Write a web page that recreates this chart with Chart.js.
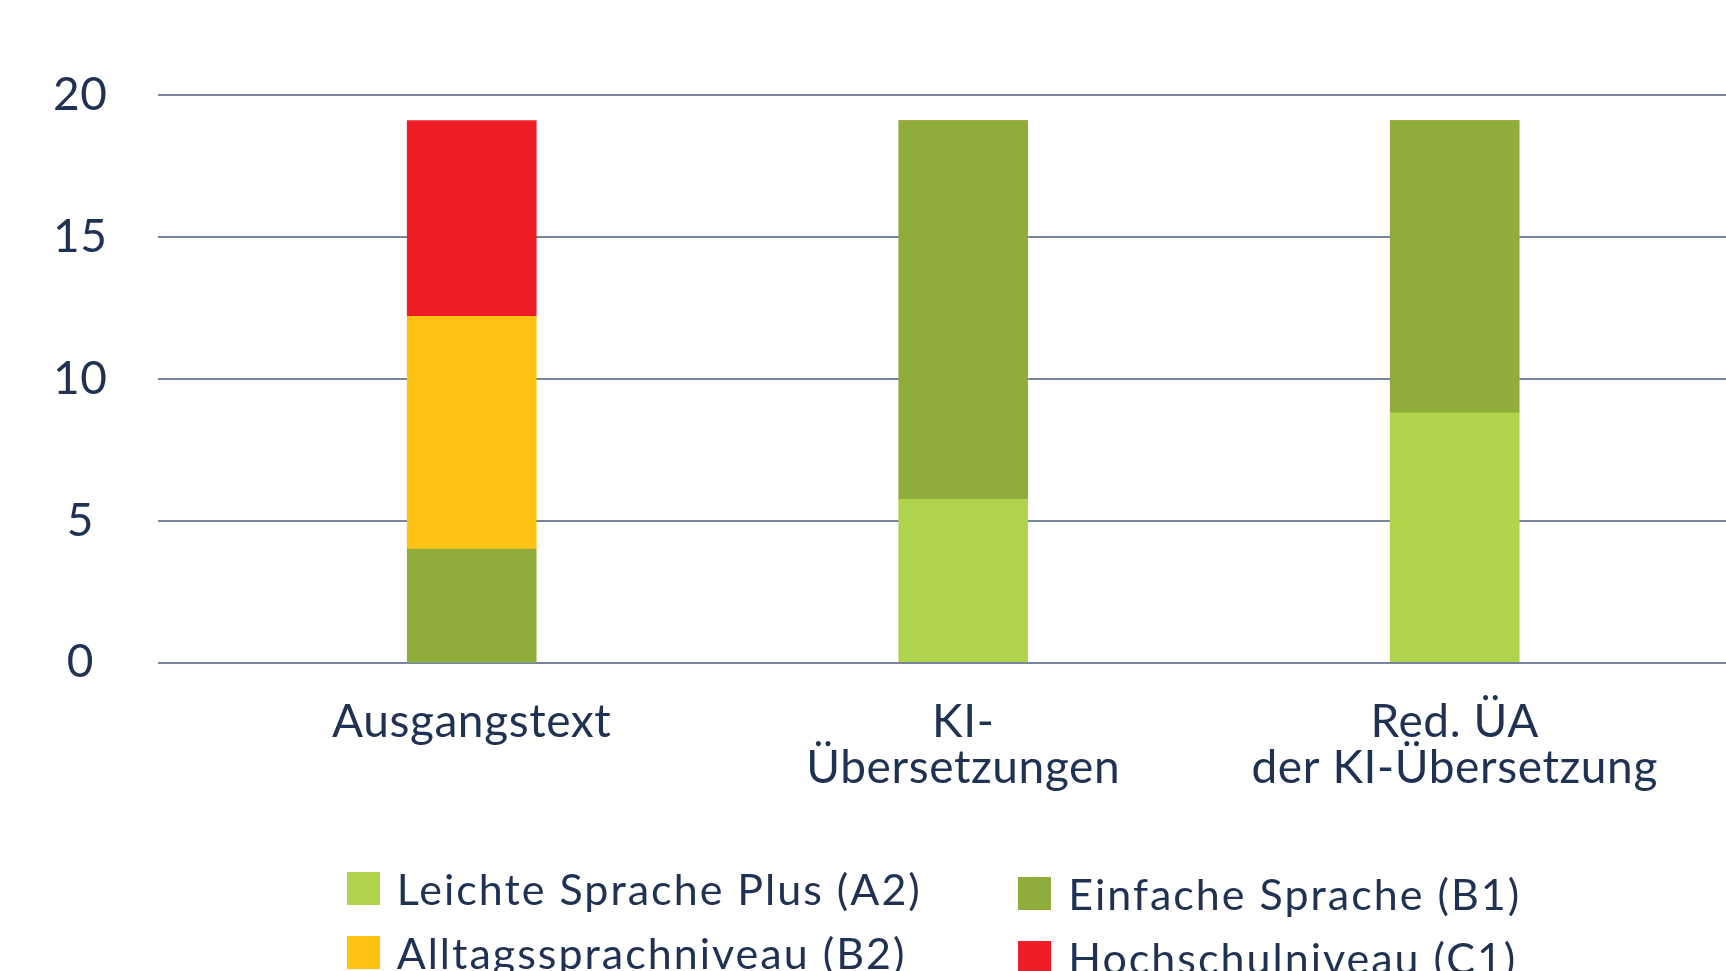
<!DOCTYPE html>
<html lang="de">
<head>
<meta charset="utf-8">
<title>Sprachniveau</title>
<script src="https://cdn.jsdelivr.net/npm/chart.js@4"></script>
<style>
  html, body { margin: 0; padding: 0; background: #ffffff; }
  #wrap { position: relative; width: 1726px; height: 971px; overflow: hidden; }
  canvas { position: absolute; left: 0; top: 0; }
  .lg-box { position: absolute; width: 33px; height: 33px; }
  .lg-text { position: absolute; white-space: nowrap; font-family: Lato, sans-serif; font-size: 43px; line-height: 42px; letter-spacing: 2px; color: #1f3253; }
</style>
</head>
<body>
<div id="wrap">
  <canvas id="c" width="1726" height="971"></canvas>
  <div id="legend"></div>
</div>
<script>
// ---- data ----
const categories = [["Ausgangstext"], ["KI-", "Übersetzungen"], ["Red. ÜA", "der KI-Übersetzung"]];
const seriesNames = ["Leichte Sprache Plus (A2)", "Einfache Sprache (B1)", "Alltagssprachniveau (B2)", "Hochschulniveau (C1)"];
const valuesA2 = [0, 5.75, 8.8];
const valuesB1 = [4.0, 13.35, 10.3];
const valuesB2 = [8.2, 0, 0];
const valuesC1 = [6.9, 0, 0];
const yTicks = [0, 5, 10, 15, 20];
const seriesColors = ["#afd34a", "#90ad3c", "#fdc212", "#ee1d26"];

const textColor = "#1f3253";
const gridColor = "#77859c";

const seriesValues = [valuesA2, valuesB1, valuesB2, valuesC1];
const datasets = seriesNames.map((name, s) => ({
  label: name,
  data: seriesValues[s].map((v, i) => ({ x: i, y: v })),
  backgroundColor: seriesColors[s],
  borderWidth: 0,
  barThickness: 129
}));

const letterSpacingPlugin = {
  id: "letterSpacing",
  beforeDraw(chart) { chart.ctx.letterSpacing = "0.6px"; }
};

const chart = new Chart(document.getElementById("c"), {
  type: "bar",
  data: { datasets },
  plugins: [letterSpacingPlugin],
  options: {
    responsive: false,
    animation: false,
    layout: { padding: { top: 95, right: 0, bottom: 0, left: 0 } },
    plugins: { legend: { display: false }, tooltip: { enabled: false }, title: { display: false } },
    scales: {
      x: {
        type: "linear",
        stacked: true,
        offset: false,
        min: -0.6383,
        max: 2.552,
        grid: { display: false, drawTicks: false, offset: false },
        border: { display: false },
        afterBuildTicks: (scale) => { scale.ticks = categories.map((_, i) => ({ value: i })); },
        afterFit: (scale) => { scale.height = 971 - 662.6; },
        ticks: {
          autoSkip: false,
          maxRotation: 0,
          padding: 37,
          color: textColor,
          font: { family: "Lato", size: 46, lineHeight: 1 },
          callback: (v) => categories[v]
        }
      },
      y: {
        stacked: true,
        min: 0,
        max: 20,
        afterBuildTicks: (scale) => { scale.ticks = yTicks.map(v => ({ value: v })); },
        afterFit: (scale) => { scale.width = 158; },
        grid: { color: gridColor, lineWidth: 2, drawTicks: false },
        border: { display: false },
        ticks: {
          padding: 51,
          crossAlign: "center",
          color: textColor,
          font: { family: "Lato", size: 46 }
        }
      }
    }
  }
});

// ---- HTML legend built from the chart's datasets ----
const legendPos = [
  { box: [346.7, 871.7], text: [396.7, 867.8] },
  { box: [1018.3, 877.3], text: [1068.3, 873.4] },
  { box: [346.7, 936], text: [396.7, 932.1] },
  { box: [1018.3, 941], text: [1068.3, 937.1] }
];
const legendEl = document.getElementById("legend");
chart.data.datasets.forEach((ds, i) => {
  const p = legendPos[i];
  const box = document.createElement("div");
  box.className = "lg-box";
  box.style.left = p.box[0] + "px";
  box.style.top = p.box[1] + "px";
  box.style.background = ds.backgroundColor;
  const txt = document.createElement("div");
  txt.className = "lg-text";
  txt.style.left = p.text[0] + "px";
  txt.style.top = p.text[1] + "px";
  txt.textContent = ds.label;
  legendEl.appendChild(box);
  legendEl.appendChild(txt);
});
</script>
</body>
</html>
